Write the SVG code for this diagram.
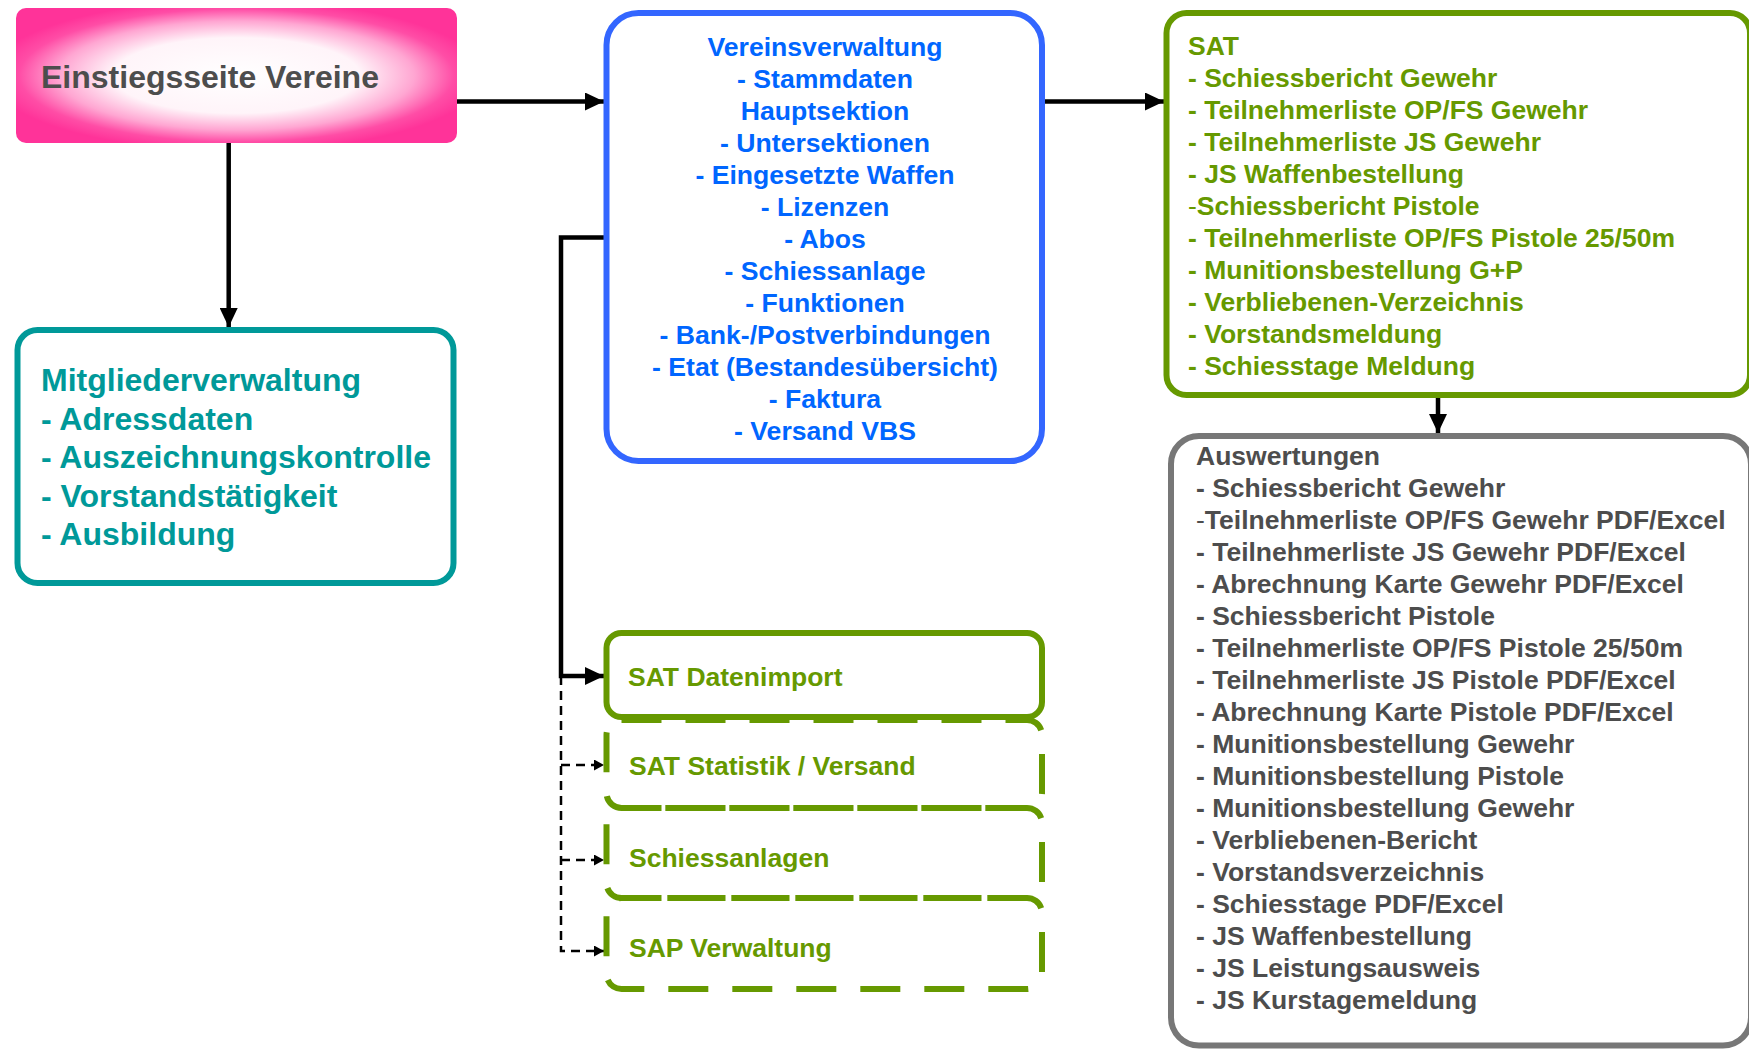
<svg xmlns="http://www.w3.org/2000/svg" width="1749" height="1052" viewBox="0 0 1749 1052">
<defs>
<radialGradient id="pinkGlow" cx="0.5" cy="0.5" r="0.56">
<stop offset="0" stop-color="#ffffff"/>
<stop offset="0.5" stop-color="#fff4f9"/>
<stop offset="0.72" stop-color="#ffa6d2"/>
<stop offset="0.88" stop-color="#ff4da6"/>
<stop offset="1" stop-color="#ff3399"/>
</radialGradient>
<marker id="arrow" markerUnits="userSpaceOnUse" markerWidth="20" markerHeight="18" refX="19" refY="9" orient="auto">
<path d="M0,0 L19,9 L0,18 z" fill="#000"/>
</marker>
<marker id="arrowSmall" markerUnits="userSpaceOnUse" markerWidth="11" markerHeight="11" refX="10" refY="5.5" orient="auto">
<path d="M0,0 L10,5.5 L0,11 z" fill="#000"/>
</marker>
</defs>
<style>
text { font-family: "Liberation Sans", Arial, sans-serif; font-weight: bold; }
.t26 { font-size: 26.5px; }
.tb { font-size: 26.6px; }
.thin { font-weight: normal; }
.conn { fill: none; stroke: #000; stroke-width: 4.5; }
.dash { fill: none; stroke: #000; stroke-width: 2.5; stroke-dasharray: 9 6; }
.green { fill: #fff; stroke: #669900; stroke-width: 6; }
.greenDash { fill: none; stroke: #669900; stroke-width: 6; stroke-dasharray: 40 24; }
</style>
<rect width="1749" height="1052" fill="#fff"/>

<g id="connectors">
<line class="conn" x1="457" y1="101.5" x2="604" y2="101.5" marker-end="url(#arrow)"/>
<line class="conn" x1="228.7" y1="143" x2="228.7" y2="327" marker-end="url(#arrow)"/>
<line class="conn" x1="1045" y1="101.5" x2="1164" y2="101.5" marker-end="url(#arrow)"/>
<line class="conn" x1="1438" y1="398" x2="1438" y2="433" marker-end="url(#arrow)"/>
<polyline class="conn" points="604,237.6 561,237.6 561,676 604,676" marker-end="url(#arrow)"/>
<polyline class="dash" points="561,676 561,951 604,951" marker-end="url(#arrowSmall)"/>
<polyline class="dash" points="561,765 604,765" marker-end="url(#arrowSmall)"/>
<polyline class="dash" points="561,860 604,860" marker-end="url(#arrowSmall)"/>
</g>

<g id="einstiegsseite">
<rect x="16" y="8" width="441" height="135" rx="10" fill="url(#pinkGlow)"/>
<text x="41" y="88" font-size="32" fill="#4d4d4d">Einstiegsseite Vereine</text>
</g>

<g id="mitgliederverwaltung">
<rect x="17.5" y="330" width="436" height="253" rx="20" fill="#fff" stroke="#009999" stroke-width="6"/>
<g font-size="32" fill="#009999">
<text x="41" y="391">Mitgliederverwaltung</text>
<text x="41" y="430">- Adressdaten</text>
<text x="41" y="468">- Auszeichnungskontrolle</text>
<text x="41" y="507">- Vorstandstätigkeit</text>
<text x="41" y="545">- Ausbildung</text>
</g>
</g>

<g id="vereinsverwaltung">
<rect x="606.5" y="13" width="435.5" height="448" rx="32" fill="#fff" stroke="#3366ff" stroke-width="6"/>
<g class="tb" fill="#0066ff" text-anchor="middle">
<text x="825" y="56">Vereinsverwaltung</text>
<text x="825" y="88">- Stammdaten</text>
<text x="825" y="120">Hauptsektion</text>
<text x="825" y="152">- Untersektionen</text>
<text x="825" y="184">- Eingesetzte Waffen</text>
<text x="825" y="216">- Lizenzen</text>
<text x="825" y="248">- Abos</text>
<text x="825" y="280">- Schiessanlage</text>
<text x="825" y="312">- Funktionen</text>
<text x="825" y="344">- Bank-/Postverbindungen</text>
<text x="825" y="376">- Etat (Bestandesübersicht)</text>
<text x="825" y="408">- Faktura</text>
<text x="825" y="440">- Versand VBS</text>
</g>
</g>

<g id="sap-verwaltung">
<rect class="greenDash" x="606.5" y="898" width="435.5" height="91" rx="15"/>
<text class="t26" x="629" y="957" fill="#669900">SAP Verwaltung</text>
</g>
<g id="schiessanlagen">
<rect class="greenDash" x="606.5" y="808" width="435.5" height="90" rx="15"/>
<text class="t26" x="629" y="867" fill="#669900">Schiessanlagen</text>
</g>
<g id="sat-statistik">
<rect class="greenDash" x="606.5" y="720" width="435.5" height="88" rx="15"/>
<text class="t26" x="629" y="775" fill="#669900">SAT Statistik / Versand</text>
</g>
<g id="sat-datenimport">
<rect class="green" x="606.5" y="633" width="435.5" height="84" rx="15"/>
<text class="t26" x="628" y="686" fill="#669900">SAT Datenimport</text>
</g>

<g id="sat">
<rect x="1166.5" y="13" width="583.5" height="382" rx="20" fill="#fff" stroke="#669900" stroke-width="6"/>
<g class="t26" fill="#669900">
<text x="1188" y="55">SAT</text>
<text x="1188" y="87">- Schiessbericht Gewehr</text>
<text x="1188" y="119">- Teilnehmerliste OP/FS Gewehr</text>
<text x="1188" y="151">- Teilnehmerliste JS Gewehr</text>
<text x="1188" y="183">- JS Waffenbestellung</text>
<text x="1188" y="215"><tspan class="thin">-</tspan>Schiessbericht Pistole</text>
<text x="1188" y="247">- Teilnehmerliste OP/FS Pistole 25/50m</text>
<text x="1188" y="279">- Munitionsbestellung G+P</text>
<text x="1188" y="311">- Verbliebenen-Verzeichnis</text>
<text x="1188" y="343">- Vorstandsmeldung</text>
<text x="1188" y="375">- Schiesstage Meldung</text>
</g>
</g>

<g id="auswertungen">
<rect x="1171" y="436" width="580" height="609.5" rx="28" fill="#fff" stroke="#777777" stroke-width="6"/>
<g class="t26" fill="#4d4d4d">
<text x="1196" y="465">Auswertungen</text>
<text x="1196" y="497">- Schiessbericht Gewehr</text>
<text x="1196" y="529"><tspan class="thin">-</tspan>Teilnehmerliste OP/FS Gewehr PDF/Excel</text>
<text x="1196" y="561">- Teilnehmerliste JS Gewehr PDF/Excel</text>
<text x="1196" y="593">- Abrechnung Karte Gewehr PDF/Excel</text>
<text x="1196" y="625">- Schiessbericht Pistole</text>
<text x="1196" y="657">- Teilnehmerliste OP/FS Pistole 25/50m</text>
<text x="1196" y="689">- Teilnehmerliste JS Pistole PDF/Excel</text>
<text x="1196" y="721">- Abrechnung Karte Pistole PDF/Excel</text>
<text x="1196" y="753">- Munitionsbestellung Gewehr</text>
<text x="1196" y="785">- Munitionsbestellung Pistole</text>
<text x="1196" y="817">- Munitionsbestellung Gewehr</text>
<text x="1196" y="849">- Verbliebenen-Bericht</text>
<text x="1196" y="881">- Vorstandsverzeichnis</text>
<text x="1196" y="913">- Schiesstage PDF/Excel</text>
<text x="1196" y="945">- JS Waffenbestellung</text>
<text x="1196" y="977">- JS Leistungsausweis</text>
<text x="1196" y="1009">- JS Kurstagemeldung</text>
</g>
</g>
</svg>
